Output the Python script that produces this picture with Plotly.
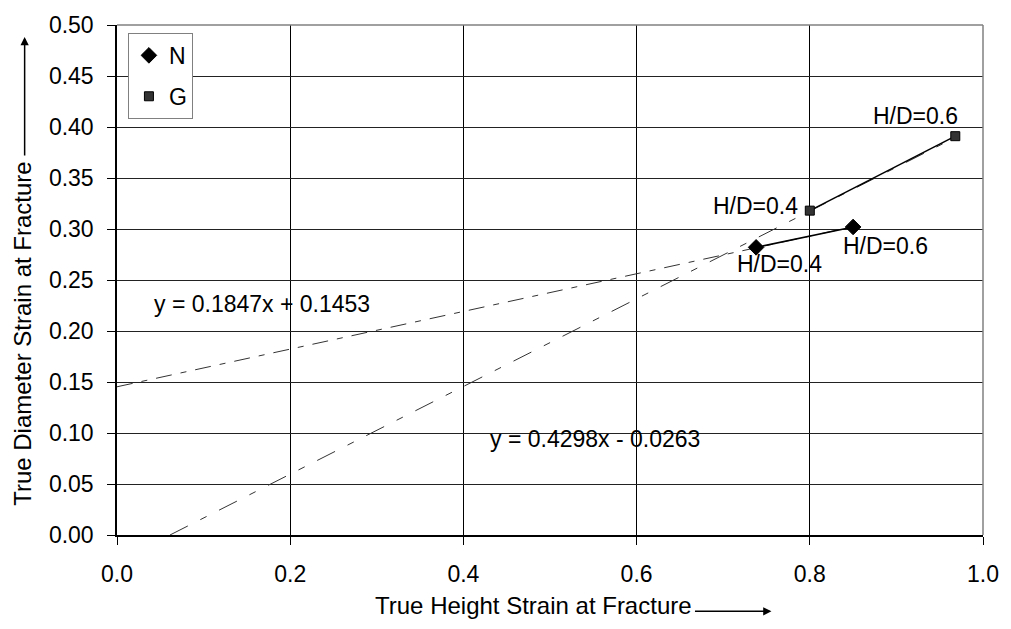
import plotly.graph_objects as go

# ---- data ----
n_x = [0.738, 0.850]
n_y = [0.282, 0.302]
g_x = [0.800, 0.968]
g_y = [0.318, 0.391]
hd_labels = ["H/D=0.4", "H/D=0.6"]

# trendline coefficients (slope, intercept) as shown on the chart
n_trend = (0.1847, 0.1453)
g_trend = (0.4298, -0.0263)
n_eq = "y = 0.1847x + 0.1453"
g_eq = "y = 0.4298x - 0.0263"

x_ticks = [0.0, 0.2, 0.4, 0.6, 0.8, 1.0]
y_ticks = [round(i * 0.05, 2) for i in range(11)]

FONT = "Liberation Sans, Arial, sans-serif"
FS = 23
FT = 24

def trend_pts(coef, xs):
    m, b = coef
    x0 = max(0.0, -b / m)
    x1 = max(xs)
    return [x0, x1], [m * x0 + b, m * x1 + b]

fig = go.Figure()

tx, ty = trend_pts(n_trend, n_x)
fig.add_trace(go.Scatter(x=tx, y=ty, mode="lines", showlegend=False,
                         line=dict(color="#333333", width=1, dash="16px,9px,6px,9px"),
                         hoverinfo="skip"))
tx, ty = trend_pts(g_trend, g_x)
fig.add_trace(go.Scatter(x=tx, y=ty, mode="lines", showlegend=False,
                         line=dict(color="#333333", width=1, dash="20px,14px,7px,14px"),
                         hoverinfo="skip"))

fig.add_trace(go.Scatter(x=n_x, y=n_y, mode="lines", showlegend=False,
                         line=dict(color="black", width=1.5)))
fig.add_trace(go.Scatter(x=g_x, y=g_y, mode="lines", showlegend=False,
                         line=dict(color="black", width=1.5)))

fig.add_trace(go.Scatter(x=n_x, y=n_y, mode="markers", name="N", legendgroup="N",
                         marker=dict(symbol="diamond", size=12, color="black",
                                     line=dict(color="black", width=1))))
fig.add_trace(go.Scatter(x=g_x, y=g_y, mode="markers", name="G", legendgroup="G",
                         marker=dict(symbol="square", size=9, color="#333333",
                                     line=dict(color="black", width=1))))

annots = []
# H/D labels attached to points
annots.append(dict(x=g_x[0], y=g_y[0], text=hd_labels[0], xanchor="right", yanchor="middle",
                   xshift=-10, yshift=5))
annots.append(dict(x=g_x[1], y=g_y[1], text=hd_labels[1], xanchor="center", yanchor="middle",
                   xshift=-40, yshift=20))
annots.append(dict(x=n_x[0], y=n_y[0], text=hd_labels[0], xanchor="center", yanchor="middle",
                   xshift=23, yshift=-17))
annots.append(dict(x=n_x[1], y=n_y[1], text=hd_labels[1], xanchor="center", yanchor="middle",
                   xshift=32, yshift=-19))
# equations
annots.append(dict(x=0.167, y=0.226, text=n_eq, xanchor="center", yanchor="middle"))
annots.append(dict(x=0.552, y=0.094, text=g_eq, xanchor="center", yanchor="middle"))
for a in annots:
    a.update(xref="x", yref="y", showarrow=False, font=dict(family=FONT, size=FS, color="black"))

# axis titles with arrows
annots.append(dict(xref="paper", yref="paper", x=(698 - 117) / 872, y=-(606 - 535) / 515,
                   text="True Height Strain at Fracture", showarrow=False,
                   xanchor="right", yanchor="middle",
                   font=dict(family=FONT, size=FT, color="black")))
annots.append(dict(xref="paper", yref="paper", x=(776 - 117) / 872, y=-(612 - 535) / 515,
                   ax=-78, ay=0, text="", showarrow=True, arrowhead=2, arrowsize=1.1,
                   arrowwidth=1.5, arrowcolor="black"))
annots.append(dict(xref="paper", yref="paper", x=-(117 - 22) / 872, y=(535 - 155) / 515,
                   text="True Diameter Strain at Fracture", showarrow=False, textangle=-90,
                   xanchor="center", yanchor="top",
                   font=dict(family=FONT, size=FT, color="black")))
annots.append(dict(xref="paper", yref="paper", x=-(117 - 24) / 872, y=(535 - 32) / 515,
                   ax=0, ay=120, text="", showarrow=True, arrowhead=2, arrowsize=1.1,
                   arrowwidth=1.5, arrowcolor="black"))

fig.update_layout(
    width=1011, height=629,
    margin=dict(l=117, r=22, t=20, b=94),
    paper_bgcolor="white", plot_bgcolor="white",
    font=dict(family=FONT, size=FS, color="black"),
    annotations=annots,
    showlegend=True,
    legend=dict(x=(128 - 117) / 872, y=(535 - 28) / 515, xanchor="left", yanchor="top",
                bgcolor="white", bordercolor="#808080", borderwidth=1,
                font=dict(family=FONT, size=FS, color="black"),
                tracegroupgap=8, itemwidth=30),
    shapes=[
        dict(type="line", xref="paper", yref="paper", x0=0, x1=1, y0=1, y1=1,
             line=dict(color="#808080", width=1.5)),
        dict(type="line", xref="paper", yref="paper", x0=1, x1=1, y0=0, y1=1,
             line=dict(color="#808080", width=1.5)),
    ],
)
fig.update_xaxes(range=[0, 1], tickvals=x_ticks, ticktext=[f"{v:.1f}" for v in x_ticks],
                 showgrid=True, gridcolor="black", gridwidth=1,
                 showline=True, linecolor="black", linewidth=1.5,
                 ticks="outside", ticklen=8, tickcolor="black",
                 zeroline=False, ticklabelstandoff=10)
fig.update_yaxes(range=[0, 0.5], tickvals=y_ticks, ticktext=[f"{v:.2f}" for v in y_ticks],
                 showgrid=True, gridcolor="#222222", gridwidth=1,
                 showline=True, linecolor="black", linewidth=1.5,
                 ticks="outside", ticklen=8, tickcolor="black",
                 zeroline=False, ticklabelstandoff=9)

fig.write_html("out.html")
